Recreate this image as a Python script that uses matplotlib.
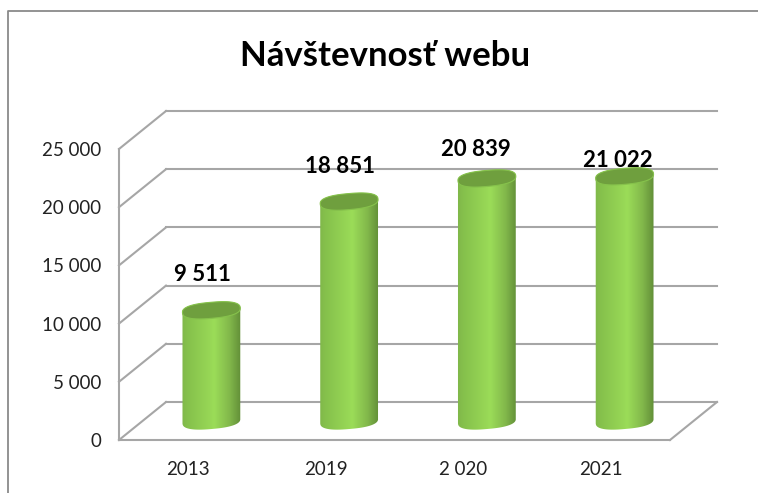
import numpy as np
import matplotlib
matplotlib.use('Agg')
import matplotlib.pyplot as plt
from matplotlib.colors import LinearSegmentedColormap
from matplotlib.patches import PathPatch, Polygon
from matplotlib.path import Path
from matplotlib.transforms import Affine2D, IdentityTransform

# data
years = ['2013', '2019', '2 020', '2021']
visits = [9511, 18851, 20839, 21022]
value_labels = ['9 511', '18 851', '20 839', '21 022']
y_ticks = [0, 5000, 10000, 15000, 20000, 25000]
y_tick_labels = ['0', '5 000', '10 000', '15 000', '20 000', '25 000']

W, H = 758, 493
plt.rcParams['font.family'] = ['Lato', 'DejaVu Sans']

fig = plt.figure(figsize=(W / 100, H / 100), dpi=100)

# front plane of the 3D box is the axes rectangle
x0, x1, ytop, ybot = 119, 670, 149, 440
ax = fig.add_axes([x0 / W, 1 - ybot / H, (x1 - x0) / W, (ybot - ytop) / H])
ax.set_xlim(-0.5, 3.5)
ax.set_ylim(0, 25000)
ax.patch.set_alpha(0)
for s in ax.spines.values():
    s.set_visible(False)

ax.set_xticks(range(len(years)))
ax.set_xticklabels(years, fontsize=13.5, color='#222222')
ax.set_yticks(y_ticks)
ax.set_yticklabels(y_tick_labels, fontsize=13.5, color='#222222')
ax.tick_params(length=0)
ax.tick_params(axis='x', pad=15)
ax.tick_params(axis='y', pad=13)

# depth offsets in pixels
dx, dy = 47, 38
back = ax.transData + Affine2D().translate(dx, dy)
mid = ax.transData + Affine2D().translate(dx / 2, dy / 2)

grid_col = '#a6a6a6'
lw = 1.5
for t in y_ticks:
    ax.plot([-0.5, 3.5], [t, t], transform=back, color=grid_col, lw=lw, clip_on=False, zorder=1)
    # side wall
    (px, py), (qx, qy) = ax.transData.transform((-0.5, t)), back.transform((-0.5, t))
    ax.plot([px, qx], [py, qy], transform=IdentityTransform(), color=grid_col, lw=lw, clip_on=False, zorder=1)

ax.plot([-0.5, -0.5], [0, 25000], color=grid_col, lw=lw, clip_on=False, zorder=1)
ax.plot([-0.5, 3.5], [0, 0], color=grid_col, lw=lw, clip_on=False, zorder=1)
(px, py), (qx, qy) = ax.transData.transform((3.5, 0)), back.transform((3.5, 0))
ax.plot([px, qx], [py, qy], transform=IdentityTransform(), color=grid_col, lw=lw, clip_on=False, zorder=1)

# cylinders
body_cmap = LinearSegmentedColormap.from_list('body', [
    (0.0, '#7fb74a'), (0.12, '#86c24c'), (0.55, '#9bdc58'),
    (0.8, '#82b84b'), (1.0, '#5f8b36')])
grad = np.linspace(0, 1, 128).reshape(1, -1)
half_w = 0.21
rx, ry, tilt = 29, 8, 5


def ellipse_verts(cx, cy, a, b):
    # slightly squared ellipse, the source caps are fuller than a true ellipse
    t = np.linspace(0, 2 * np.pi, 73)
    e = 2 / 2.5
    pts = np.column_stack([a * np.sign(np.cos(t)) * np.abs(np.cos(t)) ** e,
                           b * np.sign(np.sin(t)) * np.abs(np.sin(t)) ** e])
    r = np.radians(tilt)
    c, s = np.cos(r), np.sin(r)
    return np.column_stack([cx + c * pts[:, 0] - s * pts[:, 1],
                            cy + s * pts[:, 0] + c * pts[:, 1]])


for i, v in enumerate(visits):
    bx, by = mid.transform((i, 0))
    tx, ty = mid.transform((i, v))
    bot = ellipse_verts(bx, by, rx, ry)
    top = ellipse_verts(tx, ty, rx, ry)
    outline = np.vstack([bot[36:73], top[0:37]])
    clip = PathPatch(Path(np.vstack([outline, outline[0]]), closed=True),
                     transform=IdentityTransform(), fc='none', ec='none')
    ax.add_patch(clip)
    im = ax.imshow(grad, extent=(i - half_w * 1.05, i + half_w * 1.05, -1500, v + 1500),
                   transform=mid, cmap=body_cmap, aspect='auto', zorder=3,
                   interpolation='bilinear')
    im.set_clip_path(clip)
    ax.add_patch(Polygon(top, closed=True, transform=IdentityTransform(),
                         fc='#6f9f3e', ec='#86c24c', lw=0.8, zorder=4, clip_on=False))

ax.set_xlim(-0.5, 3.5)
ax.set_ylim(0, 25000)

# value labels, hand placed like in the source
label_dx = [-9, -9, -11, -7]
label_dy = [36, 35, 29, 16]
for i, v in enumerate(visits):
    ax.annotate(value_labels[i], xy=(i, v), xycoords=mid,
                xytext=(label_dx[i] * 0.72, label_dy[i] * 0.72), textcoords='offset points',
                ha='center', va='center', fontsize=16, fontweight='bold', color='black', zorder=5)

fig.text(385.5 / W, 1 - 56 / H, 'Návštevnosť webu', ha='center', va='center',
         fontsize=25, fontweight='bold', color='black')

# picture frame
frame_col = '#8a8a8a'
fig.add_artist(plt.Line2D([7.5 / W, 7.5 / W, 1], [0, 1 - 10.5 / H, 1 - 10.5 / H],
                          color=frame_col, lw=1.3))

fig.savefig('out.png', dpi=100)
